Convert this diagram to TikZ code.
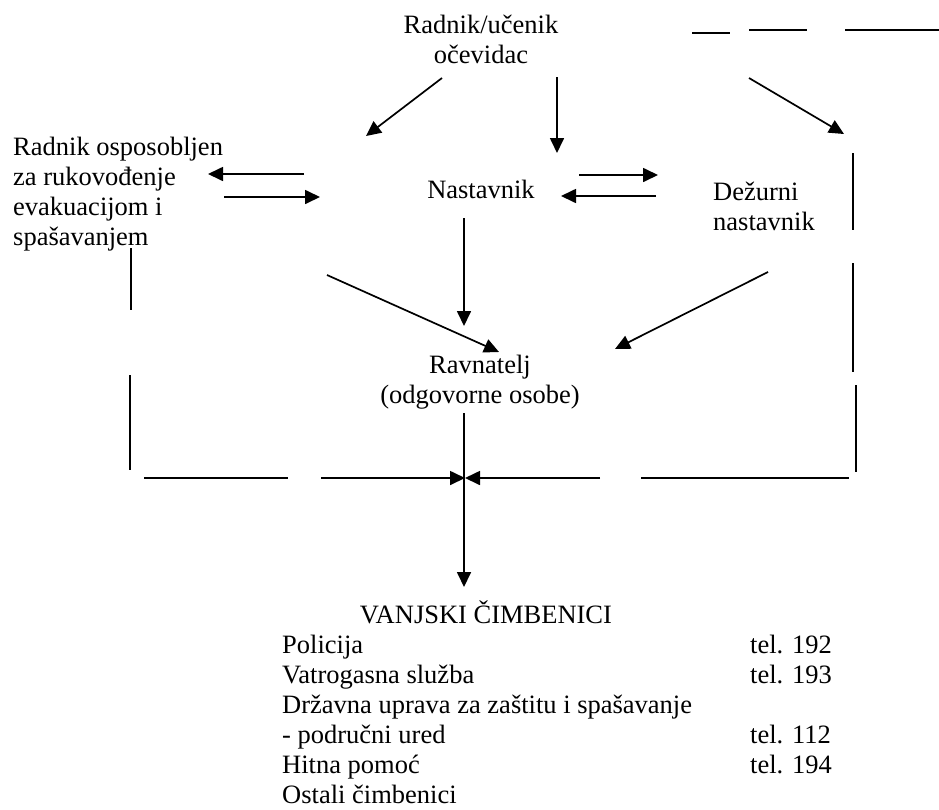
\documentclass[tikz,border=0pt]{standalone}
\usepackage{fontspec}
\setmainfont{Liberation Serif}
\usetikzlibrary{arrows.meta, positioning}

\begin{document}
\begin{tikzpicture}[x=1pt, y=-1pt,
    txt/.style={font=\fontsize{26.5}{30}\selectfont, inner sep=0pt},
    arrow/.style={-{Triangle[length=15pt, width=14pt]}, line width=1.7pt},
    link/.style={line width=1.7pt}
]
\useasboundingbox (0,0) rectangle (939,809);

%% ── People ──────────────────────────────────────────────────────────────────
\node[txt, align=center, anchor=north] (witness) at (481,15) {Radnik/učenik\\očevidac};
\node[txt, align=left, anchor=north west] (leader) at (13,137) {Radnik osposobljen\\za rukovođenje\\evakuacijom i\\spašavanjem};
\node[txt, anchor=base] (teacher) at (481,198) {Nastavnik};
\node[txt, align=left, anchor=north west] (duty) at (713,182) {Dežurni\\nastavnik};
\node[txt, align=center, anchor=north] (head) at (480,355) {Ravnatelj\\(odgovorne osobe)};

%% ── External services ───────────────────────────────────────────────────────
\node[txt, anchor=base] (external) at (486,623) {VANJSKI ČIMBENICI};
\node[txt, anchor=base west] (services) at (282,653) {\begin{tabular}[t]{@{}p{468pt}@{}l@{}}
Policija & tel. 192\\
Vatrogasna služba & tel. 193\\
Državna uprava za zaštitu i spašavanje & \\
- područni ured & tel. 112\\
Hitna pomoć & tel. 194\\
Ostali čimbenici &
\end{tabular}};

%% ── Arrow ends ──────────────────────────────────────────────────────────────
\coordinate (w-l) at (442,78);   \coordinate (to-l) at (366,136);
\coordinate (w-m) at (557,77);   \coordinate (to-m) at (557,153);
\coordinate (w-r) at (749,78);   \coordinate (to-r) at (844,134);
\coordinate (t-l) at (304,174);  \coordinate (l-in) at (208,174);
\coordinate (l-t) at (224,197);  \coordinate (t-in) at (320,197);
\coordinate (t-d) at (579,175);  \coordinate (d-in) at (658,175);
\coordinate (d-t) at (656,196);  \coordinate (t-in2) at (561,196);
\coordinate (l-h) at (327,275);  \coordinate (h-inl) at (499,352);
\coordinate (t-h) at (464,218);  \coordinate (h-inm) at (464,326);
\coordinate (d-h) at (768,272);  \coordinate (h-inr) at (615,349);
\coordinate (h-e) at (464,413);  \coordinate (e-in) at (464,587);
\coordinate (meet) at (465,478);
\coordinate (from-l) at (321,478); \coordinate (from-r) at (600,478);

%% ── Arrows ──────────────────────────────────────────────────────────────────
\draw[arrow] (w-l) -- (to-l);
\draw[arrow] (w-m) -- (to-m);
\draw[arrow] (w-r) -- (to-r);
\draw[arrow] (t-l) -- (l-in);
\draw[arrow] (l-t) -- (t-in);
\draw[arrow] (t-d) -- (d-in);
\draw[arrow] (d-t) -- (t-in2);
\draw[arrow] (l-h) -- (h-inl);
\draw[arrow] (t-h) -- (h-inm);
\draw[arrow] (d-h) -- (h-inr);
\draw[arrow] (h-e) -- (e-in);
\draw[arrow] (from-l) -- (meet);
\draw[arrow] (from-r) -- (meet);

%% ── Broken lines ────────────────────────────────────────────────────────────
\draw[link] (131,248) -- (131,310);
\draw[link] (130,375) -- (130,470);
\draw[link] (144,478) -- (288,478);
\draw[link] (641,478) -- (849,478);
\draw[link] (853,153) -- (853,230);
\draw[link] (853,263) -- (853,372);
\draw[link] (856,385) -- (856,472);
\draw[link] (692,33) -- (730,33);
\draw[link] (749,30) -- (807,30);
\draw[link] (845,30) -- (939,30);

\end{tikzpicture}
\end{document}
